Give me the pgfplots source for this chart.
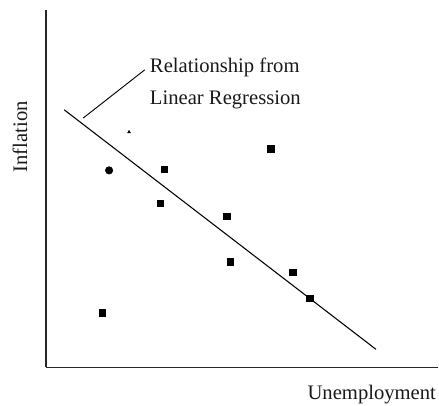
\documentclass[border=0pt]{standalone}
\usepackage{fontspec}
\setmainfont{Liberation Serif}
\usepackage{pgfplots}
\pgfplotsset{compat=1.18}
\begin{document}
\begin{tikzpicture}
\begin{axis}[
  scale only axis, width=294.75pt, height=268.5pt,
  xmin=46, xmax=439, ymin=38, ymax=396,
  axis x line=bottom, axis y line=left,
  axis line style={-, line width=1.2pt, black!85},
  xtick=\empty, ytick=\empty, clip=false,
]
% regression line
\addplot[black, line width=0.8pt] coordinates {(64.3,296) (376.7,56)};
% pointer line
\addplot[black, line width=0.7pt] coordinates {(83.3,287.7) (145,336)};
% square points
\addplot[only marks, mark=square*, mark size=2.4pt, black] coordinates {
 (164.3,236.7) (271.3,257) (160.3,202.3) (227,189.3) (230.7,143.7)
 (293.3,133.3) (310.3,107.3) (102.3,92.7)};
% round point
\addplot[only marks, mark=*, mark size=2.8pt, black] coordinates {(109.3,235.3)};
% tiny point
\addplot[only marks, mark=triangle*, mark size=1.2pt, black] coordinates {(129.3,273.7)};
\node[anchor=base west, inner sep=0pt, font=\fontsize{15.5}{18}\selectfont, text=black!90] at (axis cs:150,333) {Relationship from};
\node[anchor=base west, inner sep=0pt, font=\fontsize{15.5}{18}\selectfont, text=black!90] at (axis cs:150,301) {Linear Regression};
\node[rotate=90, inner sep=0pt, font=\fontsize{15.5}{18}\selectfont, text=black!90] at (axis cs:20,269) {Inflation};
\node[anchor=base east, inner sep=0pt, font=\fontsize{15.5}{18}\selectfont, text=black!90] at (axis cs:437,6) {Unemployment};
\path (axis cs:0,0) rectangle (axis cs:439,406);
\end{axis}
\end{tikzpicture}
\end{document}
